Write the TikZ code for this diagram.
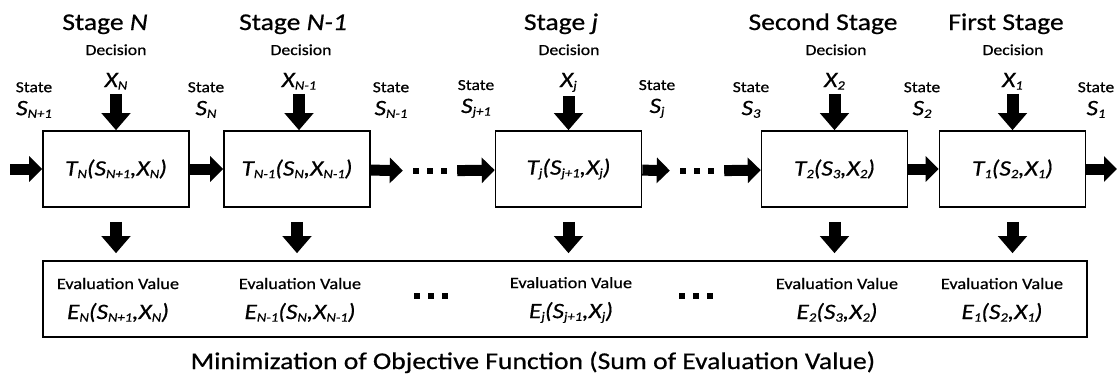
\documentclass[tikz,border=0pt]{standalone}
\usepackage{fontspec}
\setmainfont[FakeStretch=1.15,FakeBold=0.6]{Carlito}
\usetikzlibrary{positioning,arrows.meta}
\makeatletter
% small italic index, close to the baseline
\newcommand{\lo}[1]{{\dimen@=\f@size pt\dimen@=.58\dimen@
	\raisebox{-.12em}{\fontsize{\strip@pt\dimen@}{\z@}\selectfont #1}}}
\makeatother
\tikzset{
	stagebox/.style={draw,line width=1.6pt,minimum width=146pt,minimum height=76pt,inner sep=0pt,
		font=\fontsize{22}{26}\selectfont\itshape},
	evalbox/.style={draw,line width=1.6pt,minimum width=1044pt,minimum height=76pt},
	stagetitle/.style={anchor=base,font=\fontsize{24}{28}\selectfont},
	decision/.style={anchor=base,font=\fontsize{15.4}{18}\selectfont},
	var/.style={anchor=base,inner sep=0pt,font=\fontsize{22}{26}\selectfont\itshape},
	state/.style={align=center,anchor=south,inner sep=0pt,font=\fontsize{15.3}{23}\selectfont},
	evallabel/.style={align=center,inner sep=0pt,font=\fontsize{15.9}{30}\selectfont},
	dotrow/.style={inner sep=0pt,inner xsep=10pt},
	flow/.style={line width=11pt,-{Triangle[length=13pt,width=25pt]}},
	drop/.style={line width=12pt,-{Triangle[length=17pt,width=28pt]}}
}
\newcommand{\squaredots}{\rule{6pt}{6pt}\hspace{8pt}\rule{6pt}{6pt}\hspace{8pt}\rule{6pt}{6pt}}
\newcommand{\stvar}[1]{{\fontsize{22}{23}\selectfont\itshape #1}}
\newcommand{\evfun}[1]{{\fontsize{22}{23}\selectfont\itshape #1}}

\begin{document}
\begin{tikzpicture}[x=1pt,y=-1pt]
		\useasboundingbox (0,0) rectangle (1117,376);
		
		\node[stagebox] (tN) at (116,169) {T\lo{N}(S\lo{N+1},X\lo{N})};
		\node[stagebox] (tNm) at (297,169) {T\lo{N-1}(S\lo{N},X\lo{N-1})};
		\node[dotrow] (dA) at (430,171) {\squaredots};
		\node[stagebox] (tj) at (568.5,169) {T\lo{j}(S\lo{j+1},X\lo{j})};
		\node[dotrow] (dB) at (697,171) {\squaredots};
		\node[stagebox] (t2) at (834.5,169) {T\lo{2}(S\lo{3},X\lo{2})};
		\node[stagebox] (t1) at (1012.5,169) {T\lo{1}(S\lo{2},X\lo{1})};
		\coordinate (in) at (10,169);
		\coordinate (out) at (1117,169);
		
		\node[stagetitle] (gN) at (105,30) {Stage \textit{N}};
		\node[stagetitle] (gNm) at (293,30) {Stage \textit{N-1}};
		\node[stagetitle] (gj) at (561,30) {Stage \textit{j}};
		\node[stagetitle] (g2) at (823,30) {Second Stage};
		\node[stagetitle] (g1) at (1006,30) {First Stage};
		
		\node[decision] (cN) at (116,55) {Decision};
		\node[decision] (cNm) at (301,55) {Decision};
		\node[decision] (cj) at (569,55) {Decision};
		\node[decision] (c2) at (836,55) {Decision};
		\node[decision] (c1) at (1013,55) {Decision};
		
		\node[var] (xN) at (116,87) {X\lo{N}};
		\node[var] (xNm) at (299,87) {X\lo{N-1}};
		\node[var] (xj) at (568.5,87) {X\lo{j}};
		\node[var] (x2) at (834.5,87) {X\lo{2}};
		\node[var] (x1) at (1012.5,87) {X\lo{1}};
		
		\node[state] (sNp) at (34,118) {State\\\stvar{S\lo{N+1}}};
		\node[state] (sN) at (206,118) {State\\\stvar{S\lo{N}}};
		\node[state] (sNm) at (391,118) {State\\\stvar{S\lo{N-1}}};
		\node[state] (sjp) at (476,118) {State\\\stvar{S\lo{j+1}}};
		\node[state] (sj) at (657,118) {State\\\stvar{S\lo{j}}};
		\node[state] (s3) at (751,118) {State\\\stvar{S\lo{3}}};
		\node[state] (s2) at (922,118) {State\\\stvar{S\lo{2}}};
		\node[state] (s1) at (1096,118) {State\\\stvar{S\lo{1}}};
		
		\node[evalbox] (eval) at (565,299) {};
		\node[evallabel] (eN) at (118,300) {Evaluation Value\\\evfun{E\lo{N}(S\lo{N+1},X\lo{N})}};
		\node[evallabel] (eNm) at (300,300) {Evaluation Value\\\evfun{E\lo{N-1}(S\lo{N},X\lo{N-1})}};
		\node[dotrow] (eA) at (431,296) {\squaredots};
		\node[evallabel] (ej) at (571,300) {Evaluation Value\\\evfun{E\lo{j}(S\lo{j+1},X\lo{j})}};
		\node[dotrow] (eB) at (696,296) {\squaredots};
		\node[evallabel] (e2) at (837,300) {Evaluation Value\\\evfun{E\lo{2}(S\lo{3},X\lo{2})}};
		\node[evallabel] (e1) at (1002,300) {Evaluation Value\\\evfun{E\lo{1}(S\lo{2},X\lo{1})}};
		\node[anchor=base,font=\fontsize{24}{28}\selectfont] (goal) at (533,369)
			{Minimization of Objective Function (Sum of Evaluation Value)};
		
		\draw[flow] (in) -- (tN);
		\draw[flow] (tN) -- (tNm);
		\draw[flow] (tNm) -- (dA);
		\draw[flow] (dA) -- (tj);
		\draw[flow] (tj) -- (dB);
		\draw[flow] (dB) -- (t2);
		\draw[flow] (t2) -- (t1);
		\draw[flow] (t1) -- (out);
		
		\draw[drop,shorten <=4pt] (xN) -- (tN);
		\draw[drop,shorten <=4pt] (xNm) -- (tNm.north -| xNm);
		\draw[drop,shorten <=4pt] (xj) -- (tj);
		\draw[drop,shorten <=4pt] (x2) -- (t2);
		\draw[drop,shorten <=4pt] (x1) -- (t1);
		
		\draw[drop,shorten <=14pt,shorten >=7pt] (tN) -- (tN |- eval.north);
		\draw[drop,shorten <=14pt,shorten >=7pt] (tNm) -- (tNm |- eval.north);
		\draw[drop,shorten <=14pt,shorten >=7pt] (tj) -- (tj |- eval.north);
		\draw[drop,shorten <=14pt,shorten >=7pt] (t2) -- (t2 |- eval.north);
		\draw[drop,shorten <=14pt,shorten >=7pt] (t1) -- (t1 |- eval.north);
		
\end{tikzpicture}
\end{document}
